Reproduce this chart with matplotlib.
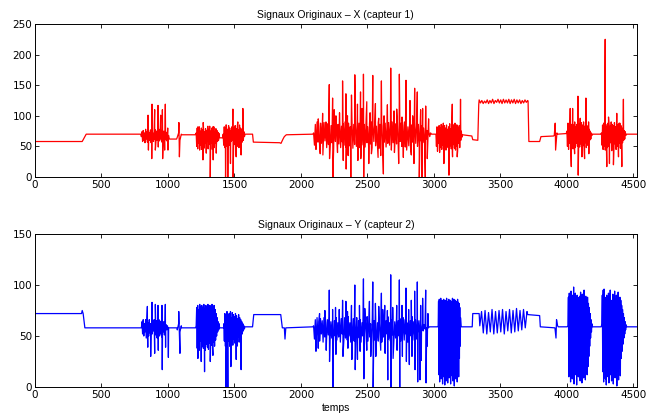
import numpy as np
import matplotlib
matplotlib.use('Agg')
import matplotlib.pyplot as plt

plt.rcParams['font.family'] = ['Liberation Sans', 'DejaVu Sans']

# ---- capteur 1 (X) ----
# baseline breakpoints (time, value), outside the bursts
x_base_t = [0, 355, 385, 795, 1010, 1065, 1105, 1205, 1392, 1412, 1580, 1636, 1642, 1840,
            1850, 1865, 1875, 1890, 2090, 2980, 3010, 3215, 3285, 3292, 3330, 3337,
            3708, 3714, 3795, 3805, 3900, 3930, 3995, 4192, 4255, 4448, 4525]
x_base_v = [58, 58, 70, 70, 62, 62, 69, 69, 64, 64, 70, 70, 57, 56,
            55, 62, 66, 69, 70, 70, 70, 69, 67, 61, 60, 118,
            124, 58, 58, 66, 67, 70, 71, 70, 70, 70, 70]
# bursts: time span and the read-off zigzag of the dense part
x_spans = [(800, 1005), (1070, 1100), (1212, 1388), (1415, 1575), (2095, 2975),
           (3015, 3210), (3340, 3705), (3905, 3925), (4000, 4188), (4260, 4443)]
x_bands = [
    [66, 74, 58, 76, 60, 72, 56, 78, 62, 74, 57, 76, 59, 73, 60, 77, 56, 75, 61, 72, 58, 74, 62, 77,
     57, 75, 60, 73, 56, 78, 59, 74, 62, 76, 57, 72, 60, 75, 58, 77, 61, 73, 59, 71, 62, 68],
    [65, 72, 60, 70],
    [72, 50, 80, 46, 78, 55, 82, 48, 75, 52, 80, 45, 77, 50, 82, 47, 74, 55, 79, 50, 76, 58, 81, 46,
     78, 53, 83, 49, 75, 56, 80, 45, 77, 51, 82, 48, 74, 55, 79, 52, 76, 58, 73, 60, 71, 64],
    [70, 52, 82, 48, 80, 55, 85, 50, 78, 46, 84, 52, 80, 49, 76, 58, 82, 60, 86, 47,
     81, 53, 84, 45, 79, 56, 83, 50, 77, 48, 85, 54, 80, 51, 78, 57, 76, 60, 74, 66],
    [72, 52, 86, 49, 90, 57, 83, 47, 88, 55, 85, 50, 89, 59, 81, 48, 87, 53, 90, 51, 84, 56, 88, 47, 82,
     58, 90, 50, 86, 54, 89, 48, 83, 57, 87, 52, 90, 49, 85, 56, 88, 51, 82, 58, 89, 47, 86, 53, 90, 50,
     84, 55, 88, 48, 83, 57, 90, 52, 86, 49, 89, 56, 82, 50, 87, 54, 90, 48, 85, 58, 88, 51, 83, 55, 89,
     47, 86, 53, 90, 50, 84, 57, 88, 49, 82, 55, 89, 52, 86, 48, 90, 56, 83, 51, 87, 54, 89, 47, 85, 58,
     88, 50, 84, 53, 90, 49, 86, 56, 82, 51, 89, 48, 85, 57, 88, 52, 83, 55, 90, 50, 86, 54, 81, 59, 84,
     56, 80, 60, 78, 62, 76, 64, 74, 66, 72],
    [70, 50, 82, 42, 78, 55, 84, 40, 80, 48, 86, 45, 82, 52, 88, 40, 84, 50, 80, 44, 85, 55, 78, 48, 82,
     43, 87, 51, 79, 46, 84, 41, 86, 53, 81, 47, 88, 44, 83, 50, 85, 42, 80, 55, 84, 48, 78, 60, 75, 65],
    [126, 121, 125, 120, 124, 121, 126, 120, 125, 121, 127, 120, 125, 122, 127, 121, 126, 120, 127,
     121, 126, 121, 127, 120, 126, 121, 127, 120, 126, 121, 126, 120, 125, 121, 126, 122, 125],
    [68, 72],
    [75, 50, 88, 45, 84, 55, 90, 44, 86, 50, 88, 46, 85, 52, 90, 48, 82, 55, 86, 50, 92, 43, 87, 49,
     84, 54, 89, 46, 85, 51, 90, 45, 83, 56, 87, 48, 84, 52, 80, 58, 78, 60, 75, 62, 72, 68],
    [72, 52, 85, 45, 88, 50, 84, 44, 86, 55, 82, 48, 88, 50, 85, 46, 83, 56, 90, 43, 86, 51, 84, 47,
     89, 54, 82, 45, 87, 50, 85, 48, 83, 55, 88, 47, 84, 52, 80, 56, 78, 60, 76, 62, 74, 68],
]
# isolated spikes
x_spike_t = [850, 853, 878, 880, 900, 905, 925, 927, 945, 958, 960, 975, 980, 998, 1000,
             1082, 1086,
             1225, 1238, 1263, 1265, 1288, 1300, 1318, 1338, 1340, 1363,
             1433, 1436, 1450, 1470, 1488, 1490, 1513, 1525, 1550, 1563,
             2113, 2163, 2165, 2188, 2213, 2215, 2238, 2240, 2263, 2313, 2318, 2338, 2340, 2375,
             2380, 2405, 2425, 2428, 2448, 2470, 2472, 2495, 2510, 2540, 2580, 2585, 2605, 2620,
             2650, 2675, 2680, 2720, 2735, 2740, 2790, 2795, 2850, 2855, 2875, 2890, 2910, 2915,
             2935, 2938,
             2130, 2145, 2250, 2275, 2290, 2350, 2355, 2450, 2460, 2520, 2530, 2560, 2600, 2625,
             2700, 2703, 2760, 2770, 2820, 2830, 2840, 2900, 2950, 2960,
             3063, 3075, 3113, 3138, 3140, 3163, 3175, 3200,
             3912, 3915,
             4025, 4033, 4043, 4058, 4083, 4085, 4100, 4113, 4133, 4143, 4163, 4165,
             4288, 4300, 4313, 4320, 4350, 4375, 4388, 4393, 4413, 4425]
x_spike_v = [101, 44, 30, 119, 110, 44, 117, 49, 101, 110, 30, 44, 119, 80, 44,
             89, 33,
             82, 44, 28, 89, 39, 83, 0, 82, 28, 39,
             0, 85, 0, 22, 111, 0, 33, 90, 36, 112,
             45, 104, 36, 90, 151, 30, 129, 0, 100, 157, 27, 136, 13, 0,
             134, 167, 119, 27, 139, 168, 0, 123, 22, 166, 32, 96, 157, 5,
             118, 178, 44, 111, 22, 168, 158, 44, 22, 145, 139, 0, 0, 112,
             0, 116,
             95, 38, 110, 40, 105, 100, 35, 30, 112, 105, 38, 120, 35, 100,
             108, 40, 98, 32, 125, 36, 100, 110, 30, 95,
             83, 22, 3, 119, 33, 86, 33, 127,
             88, 44,
             112, 17, 112, 38, 132, 3, 96, 33, 30, 129, 90, 38,
             225, 17, 98, 22, 20, 104, 33, 88, 17, 127]

# ---- capteur 2 (Y) ----
y_base_t = [0, 350, 355, 362, 375, 795, 1010, 1068, 1102, 1208, 1388, 1418, 1578, 1636, 1645,
            1848, 1860, 1875, 1880, 1886, 2090, 2968, 3028, 3205, 3288, 3292, 3340,
            3705, 3795, 3800, 3905, 3935, 4002, 4192, 4258, 4450, 4525]
y_base_v = [72, 72, 75, 72, 58, 58, 58, 58, 58, 58, 58, 58, 59, 59, 71,
            71, 58, 58, 47, 58, 59, 59, 59, 59, 59, 72, 72,
            71, 70, 59, 58, 59, 59, 59, 59, 59, 59]
y_spans = [(800, 1005), (1070, 1100), (1212, 1385), (1420, 1575), (2095, 2965),
           (3032, 3200), (3345, 3700), (3910, 3930), (4008, 4188), (4263, 4445)]
y_bands = [
    [58, 64, 52, 66, 50, 62, 54, 66, 48, 64, 52, 63, 50, 66, 53, 62, 50, 65, 52, 62, 55, 66, 49, 64,
     51, 65, 48, 63, 53, 66, 50, 64, 52, 65, 49, 62, 54, 64, 51, 63, 55, 61, 56, 60, 57, 58],
    [56, 62, 54, 60],
    [60, 78, 38, 80, 42, 76, 36, 81, 45, 79, 35, 80, 40, 78, 38, 81, 44, 77, 36, 80, 42, 76, 39, 81,
     37, 79, 43, 80, 35, 78, 41, 81, 38, 77, 44, 80, 40, 76, 46, 72, 50, 68, 54, 64, 56, 62],
    [62, 45, 72, 40, 70, 48, 74, 42, 68, 45, 72, 40, 70, 50, 68, 44, 73, 41, 71, 47,
     69, 43, 72, 46, 70, 40, 67, 49, 71, 44, 68, 48, 66, 50, 64, 52, 62, 55, 60, 57],
    [60, 47, 66, 44, 68, 50, 64, 45, 67, 52, 65, 44, 68, 49, 63, 46, 66, 51, 69, 45, 64, 48, 67, 44, 65,
     50, 68, 46, 63, 49, 66, 44, 67, 52, 64, 45, 68, 48, 65, 46, 69, 50, 63, 44, 66, 49, 67, 45, 64, 51,
     68, 46, 65, 48, 66, 44, 63, 50, 67, 47, 64, 52, 69, 45, 66, 49, 62, 44, 68, 51, 65, 46, 67, 48, 63,
     45, 66, 50, 68, 44, 64, 49, 67, 46, 65, 52, 69, 47, 63, 45, 66, 51, 68, 44, 64, 48, 67, 46, 65, 50,
     67, 45, 64, 49, 68, 46, 66, 52, 63, 44, 67, 48, 65, 50, 69, 46, 64, 51, 66, 47, 62, 53, 65, 50, 63,
     54, 62, 55, 61, 57, 60, 58, 60, 58, 59],
    [60, 84, 12, 86, 5, 82, 20, 87, 8, 80, 15, 85, 3, 84, 18, 86, 10, 81, 2, 85, 22, 83, 6, 87, 14, 80,
     4, 84, 25, 86, 9, 82, 17, 85, 3, 79, 20, 84, 11, 87, 6, 83, 16, 86, 1, 81, 24, 85, 8, 84, 13, 80,
     5, 86, 19, 83, 10, 82, 28, 78, 40, 68],
    [60, 74, 53, 75, 52, 73, 54, 76, 52, 74, 53, 75, 54, 76, 52, 74, 55, 76, 53, 75, 54, 77, 55, 75,
     56, 76, 58, 74],
    [58, 60],
    [60, 88, 10, 92, 18, 85, 5, 94, 25, 88, 8, 90, 15, 98, 3, 86, 20, 92, 12, 84, 2, 90, 28, 88,
     10, 85, 18, 89, 6, 93, 14, 87, 4, 91, 22, 86, 9, 95, 16, 84, 7, 89, 26, 83, 12, 88, 20, 82, 30,
     78, 40, 72, 48, 66, 54, 62],
    [62, 90, 15, 95, 5, 96, 20, 88, 8, 86, 2, 90, 18, 87, 10, 92, 4, 88, 25, 95, 12, 85, 6, 82,
     17, 91, 3, 89, 21, 94, 9, 86, 14, 90, 1, 87, 24, 93, 7, 84, 19, 88, 11, 85, 28, 80, 35, 76,
     42, 72, 48, 68, 52, 64, 56, 61],
]
y_spike_t = [845, 848, 870, 880, 900, 905, 925, 927, 955, 957, 980, 982, 1003,
             1081, 1090,
             1225, 1250, 1275, 1318, 1338,
             1436, 1450, 1470, 1473, 1513, 1550,
             2113, 2213, 2215, 2238, 2240, 2288, 2313, 2316, 2338, 2380, 2383, 2405, 2408, 2425,
             2470, 2473, 2495, 2515, 2540, 2543, 2563, 2585, 2605, 2630, 2633, 2650, 2653, 2675,
             2678, 2720, 2723, 2740, 2743, 2790, 2793, 2855, 2858, 2875, 2878, 2895, 2915, 2938, 2941,
             2130, 2140, 2180, 2190, 2260, 2263, 2350, 2353, 2440, 2445, 2480, 2525, 2560, 2600,
             2615, 2690, 2693, 2760, 2763, 2810, 2815, 2830, 2835, 2900, 2905, 2950, 2955,
             3918, 3922]
y_spike_v = [79, 39, 30, 83, 33, 81, 80, 36, 80, 17, 81, 39, 29,
             74, 33,
             28, 25, 15, 25, 31,
             0, 0, 74, 20, 27, 17,
             35, 95, 25, 76, 0, 76, 85, 30, 84, 80, 27, 100, 17, 27,
             106, 8, 36, 84, 103, 0, 30, 79, 92, 80, 33, 75, 7, 110,
             0, 80, 36, 105, 0, 97, 25, 94, 17, 103, 5, 7, 87, 95, 4,
             38, 72, 75, 36, 78, 32, 74, 38, 80, 35, 77, 30, 82, 36,
             76, 78, 28, 80, 30, 76, 22, 85, 30, 80, 26, 40, 72,
             48, 66]


def build_signal(base_t, base_v, spans, bands, spike_t, spike_v):
    t = list(base_t) + list(spike_t)
    v = list(base_v) + list(spike_v)
    for (t0, t1), band in zip(spans, bands):
        t += list(np.linspace(t0, t1, len(band)))
        v += list(band)
    order = np.argsort(t, kind='stable')
    return np.array(t)[order], np.array(v)[order]


xt, xv = build_signal(x_base_t, x_base_v, x_spans, x_bands, x_spike_t, x_spike_v)
yt, yv = build_signal(y_base_t, y_base_v, y_spans, y_bands, y_spike_t, y_spike_v)

fig = plt.figure(figsize=(6.47, 4.16), dpi=100)
ax1 = fig.add_axes([0.0541, 0.5745, 0.930, 0.3678])
ax2 = fig.add_axes([0.0541, 0.0697, 0.930, 0.3678])

ax1.plot(xt, xv, color='#ff0000', lw=0.9)
ax2.plot(yt, yv, color='#0000ff', lw=0.9)

ax1.set_ylim(0, 250)
ax1.set_yticks(range(0, 251, 50))
ax2.set_ylim(0, 150)
ax2.set_yticks(range(0, 151, 50))

for ax in (ax1, ax2):
    ax.set_xlim(0, 4525)
    ax.set_xticks(range(0, 4501, 500))
    ax.tick_params(direction='in', top=True, right=True, length=3, width=0.6,
                   labelsize=7.5, pad=2)
    for s in ax.spines.values():
        s.set_linewidth(0.7)
    for lab in ax.get_xticklabels() + ax.get_yticklabels():
        lab.set_family('DejaVu Sans')

ax1.set_title('Signaux Originaux \u2013 X (capteur 1)', fontsize=7.5, pad=4)
ax2.set_title('Signaux Originaux \u2013 Y (capteur 2)', fontsize=7.5, pad=4)
ax2.set_xlabel('temps', fontsize=7.5, labelpad=2)

fig.savefig('out.png', dpi=100)
